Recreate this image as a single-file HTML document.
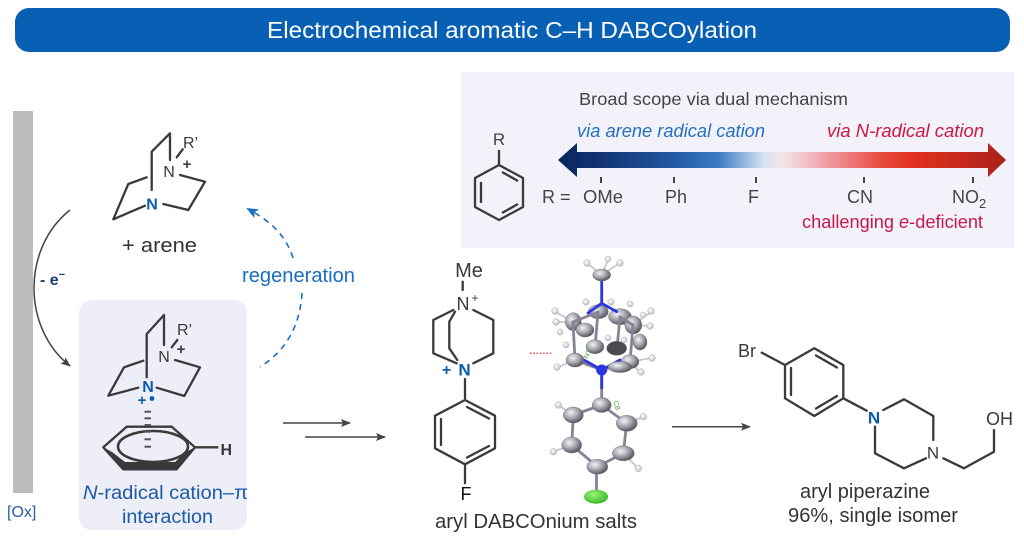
<!DOCTYPE html>
<html><head><meta charset="utf-8"><style>
html,body{margin:0;padding:0;background:#fff;}
svg{display:block;}
text{font-family:"Liberation Sans",Arial,sans-serif;}
</style></head><body>
<svg width="1024" height="542" viewBox="0 0 1024 542" xmlns="http://www.w3.org/2000/svg">
<defs>
<linearGradient id="bar" gradientUnits="userSpaceOnUse" x1="558" y1="0" x2="1006" y2="0">
<stop offset="0" stop-color="#0b245c"/>
<stop offset="0.08" stop-color="#10306e"/>
<stop offset="0.25" stop-color="#2158a2"/>
<stop offset="0.36" stop-color="#3a7cc4"/>
<stop offset="0.46" stop-color="#d6e4f2"/>
<stop offset="0.5" stop-color="#f3e6ea"/>
<stop offset="0.6" stop-color="#ef9ea4"/>
<stop offset="0.72" stop-color="#e84a40"/>
<stop offset="0.8" stop-color="#e0301f"/>
<stop offset="1" stop-color="#a9221a"/>
</linearGradient>
<radialGradient id="ga" cx="0.38" cy="0.35" r="0.7">
<stop offset="0" stop-color="#f2f2f6"/><stop offset="0.5" stop-color="#a6a6ae"/><stop offset="1" stop-color="#4a4a52"/>
</radialGradient>
<radialGradient id="gh" cx="0.4" cy="0.35" r="0.7">
<stop offset="0" stop-color="#ffffff"/><stop offset="1" stop-color="#bcbcc4"/>
</radialGradient>
<radialGradient id="gc" cx="0.4" cy="0.35" r="0.7">
<stop offset="0" stop-color="#9cf27c"/><stop offset="1" stop-color="#2fb81c"/>
</radialGradient>
<marker id="ah" viewBox="0 0 10 8" refX="9" refY="4" markerWidth="10" markerHeight="8" markerUnits="userSpaceOnUse" orient="auto">
<path d="M0,0 L10,4 L0,8 L2,4 z" fill="#444"/>
</marker>
<marker id="ahb" viewBox="0 0 12 10" refX="10" refY="5" markerWidth="12" markerHeight="10" markerUnits="userSpaceOnUse" orient="auto">
<path d="M0,0 L12,5 L0,10 L3,5 z" fill="#1a6ec0"/>
</marker>
</defs>

<!-- header -->
<rect x="15" y="8" width="995" height="44" rx="14" fill="#0760b4"/>
<text x="512" y="38" text-anchor="middle" font-size="23" fill="#fff" textLength="490" lengthAdjust="spacingAndGlyphs">Electrochemical aromatic C–H DABCOylation</text>

<!-- scope panel -->
<rect x="461" y="72" width="553" height="176" fill="#f3f2fb"/>
<text x="579" y="105" font-size="17.5" fill="#444" textLength="269" lengthAdjust="spacingAndGlyphs">Broad scope via dual mechanism</text>
<text x="577" y="137" font-size="18" font-style="italic" fill="#2470c2" textLength="188" lengthAdjust="spacingAndGlyphs">via arene radical cation</text>
<text x="827" y="137" font-size="18" font-style="italic" fill="#d0173f" textLength="157" lengthAdjust="spacingAndGlyphs">via N-radical cation</text>
<polygon points="558,160 577,143 577,152 988,152 988,143 1006,160 988,177 988,168 577,168 577,177" fill="url(#bar)"/>
<g stroke="#444" stroke-width="2">
<line x1="601" y1="177" x2="601" y2="183"/><line x1="674" y1="177" x2="674" y2="183"/>
<line x1="756" y1="177" x2="756" y2="183"/><line x1="864" y1="177" x2="864" y2="183"/>
<line x1="973" y1="177" x2="973" y2="183"/>
</g>
<g font-size="18" fill="#444">
<text x="542" y="203">R =</text>
<text x="583" y="203" textLength="40" lengthAdjust="spacingAndGlyphs">OMe</text>
<text x="665" y="203">Ph</text>
<text x="748" y="203">F</text>
<text x="847" y="203">CN</text>
<text x="952" y="203">NO<tspan font-size="13" dy="5">2</tspan></text>
</g>
<text x="802" y="228" font-size="18" fill="#c8174a" textLength="181" lengthAdjust="spacingAndGlyphs">challenging <tspan font-style="italic">e</tspan>-deficient</text>
<!-- benzene R -->
<text x="499" y="145" font-size="17" fill="#444" text-anchor="middle">R</text>
<g stroke="#3a3a3a" stroke-width="2.3" fill="none" stroke-linejoin="round">
<line x1="499" y1="150" x2="499" y2="165"/>
<polygon points="499,165 523,178 523,207 499,220 475,207 475,178"/>
<line x1="502" y1="172" x2="518" y2="181"/>
<line x1="481" y1="182" x2="481" y2="203"/>
<line x1="502" y1="213" x2="518" y2="204"/>
</g>

<!-- electrode -->
<rect x="13" y="111" width="20" height="382" fill="#bdbdbd"/>
<text x="7" y="517" font-size="16" fill="#2b5c9c">[Ox]</text>

<!-- top DABCO -->
<g stroke="#3a3a3a" stroke-width="2.3" fill="none" stroke-linecap="round" stroke-linejoin="round">
<polyline points="151.7,190 151.7,151.7 170,133.3 170,160"/>
<line x1="176.7" y1="157.3" x2="182.7" y2="149.3"/>
<polyline points="180,175 205,181.7 188.3,210 163.3,204"/>
<polyline points="145,205.7 113.3,219.3 128.3,184 146.7,177.3"/>
</g>
<text x="152" y="209.5" font-size="16" font-weight="bold" fill="#0a5cb0" text-anchor="middle">N</text>
<text x="169" y="177" font-size="16" fill="#3a3a3a" text-anchor="middle">N</text>
<text x="187" y="169" font-size="15" font-weight="bold" fill="#3a3a3a" text-anchor="middle">+</text>
<text x="183" y="148" font-size="16" fill="#3a3a3a">R’</text>
<text x="122" y="252" font-size="20" fill="#333" textLength="75" lengthAdjust="spacingAndGlyphs">+ arene</text>

<!-- -e arc -->
<path d="M70,210 C 22,248 22,328 70,366" fill="none" stroke="#444" stroke-width="1.5" marker-end="url(#ah)"/>
<text x="40" y="285" font-size="16" font-weight="bold" fill="#1d3f78">- e<tspan font-size="11" dy="-7">−</tspan></text>

<!-- regeneration -->
<path d="M293,258 C 286,236 272,222 248,209" fill="none" stroke="#1a6ec0" stroke-width="1.6" stroke-dasharray="6,5" marker-end="url(#ahb)"/>
<path d="M302,293 C 300,325 287,350 260,367" fill="none" stroke="#1a6ec0" stroke-width="1.6" stroke-dasharray="6,5"/>
<text x="242" y="282" font-size="20" fill="#1a6ec0" textLength="113" lengthAdjust="spacingAndGlyphs">regeneration</text>

<!-- radical cation box -->
<rect x="79" y="300" width="168" height="230" rx="13" fill="#eeeef9"/>
<g stroke="#3a3a3a" stroke-width="2.3" fill="none" stroke-linecap="round" stroke-linejoin="round">
<polyline points="146.7,377.3 146.7,334 164,315 164,345"/>
<line x1="171.7" y1="347.3" x2="177.3" y2="340"/>
<polyline points="175,360 200,367.3 184.3,396 156.7,387.7"/>
<polyline points="138.3,387.7 108.3,395.7 124,367.3 143.3,360.7"/>
</g>
<text x="148" y="392" font-size="16" font-weight="bold" fill="#0a5cb0" text-anchor="middle">N</text>
<text x="164" y="362" font-size="16" fill="#3a3a3a" text-anchor="middle">N</text>
<text x="181" y="354" font-size="15" font-weight="bold" fill="#3a3a3a" text-anchor="middle">+</text>
<text x="177" y="335" font-size="16" fill="#3a3a3a">R’</text>
<text x="142" y="405" font-size="15" font-weight="bold" fill="#0a5cb0" text-anchor="middle">+</text>
<circle cx="152" cy="398.5" r="2.4" fill="#0a5cb0"/>
<!-- arene -->
<polygon points="103.3,447.3 123.3,469.3 176.7,469.3 195,447.3 186,452 175,462 125,462 112,452" fill="#3a3a3a"/>
<g stroke="#3a3a3a" stroke-width="2.3" fill="none" stroke-linejoin="round">
<polygon points="103.3,447.3 126.7,426.7 171.7,426.7 195,447.3 176.7,469.3 123.3,469.3"/>
<ellipse cx="153" cy="446.5" rx="35" ry="15.5" stroke-width="2.6"/>
<line x1="195" y1="447.3" x2="218.3" y2="447.3"/>
</g>
<g stroke="#555" stroke-width="2">
<line x1="144.5" y1="411.7" x2="151" y2="411.7"/><line x1="144.5" y1="418.3" x2="151" y2="418.3"/>
<line x1="144.5" y1="425" x2="151" y2="425"/><line x1="144.5" y1="431.7" x2="151" y2="431.7"/>
<line x1="144.5" y1="439.3" x2="151" y2="439.3"/><line x1="144.5" y1="446.7" x2="151" y2="446.7"/>
</g>
<text x="220.5" y="455" font-size="16" font-weight="bold" fill="#3a3a3a">H</text>
<text x="83" y="499" font-size="19" fill="#1b5aa6" textLength="165" lengthAdjust="spacingAndGlyphs"><tspan font-style="italic">N</tspan>-radical cation–π</text>
<text x="122" y="523" font-size="19" fill="#1b5aa6" textLength="91" lengthAdjust="spacingAndGlyphs">interaction</text>

<!-- double arrows -->
<line x1="283" y1="423" x2="350" y2="423" stroke="#444" stroke-width="1.5" marker-end="url(#ah)"/>
<line x1="305" y1="437" x2="385" y2="437" stroke="#444" stroke-width="1.5" marker-end="url(#ah)"/>

<!-- DABCOnium -->
<text x="469" y="277" font-size="20" fill="#3a3a3a" text-anchor="middle">Me</text>
<g stroke="#3a3a3a" stroke-width="2.3" fill="none" stroke-linecap="round" stroke-linejoin="round">
<line x1="462.7" y1="281.7" x2="462.7" y2="290"/>
<polyline points="453.3,310 433.3,320 433.3,353.3 456.7,363.3"/>
<polyline points="455,311.7 449.3,321.7 449.3,348.3 457.3,360"/>
<polyline points="473.3,310 493.3,320 493.3,353.3 473.3,363.3"/>
<line x1="465" y1="379" x2="465" y2="398.3"/>
<polygon points="465,400 495,415.7 495,448.3 465,464.3 435,448.3 435,415.7"/>
<line x1="467" y1="407" x2="489" y2="418.5"/>
<line x1="441" y1="419" x2="441" y2="445"/>
<line x1="467" y1="457.5" x2="489" y2="446"/>
<line x1="465" y1="464.3" x2="465" y2="483.3"/>
</g>
<text x="463" y="310" font-size="18" fill="#3a3a3a" text-anchor="middle">N</text>
<text x="475" y="302" font-size="12" fill="#3a3a3a" text-anchor="middle">+</text>
<text x="464.5" y="375.5" font-size="17" font-weight="bold" fill="#0a5cb0" text-anchor="middle">N</text>
<text x="446.5" y="375" font-size="16" font-weight="bold" fill="#0a5cb0" text-anchor="middle">+</text>
<text x="466" y="500" font-size="18" fill="#111" text-anchor="middle">F</text>
<text x="435" y="528" font-size="20" fill="#333" textLength="202" lengthAdjust="spacingAndGlyphs">aryl DABCOnium salts</text>

<!-- crystal structure -->
<line x1="530" y1="353.3" x2="553" y2="353.3" stroke="#d04848" stroke-width="1.5" stroke-dasharray="1.5,1.8"/>
<g stroke="#c0c0c8" stroke-width="1.6">
<line x1="601.7" y1="275" x2="587" y2="263"/><line x1="601.7" y1="275" x2="620" y2="263"/><line x1="601.7" y1="275" x2="608" y2="260"/>
<line x1="573" y1="322" x2="556" y2="312"/><line x1="573" y1="322" x2="557" y2="322"/>
<line x1="633" y1="325" x2="651" y2="312"/><line x1="633" y1="325" x2="650" y2="326"/>
<line x1="630" y1="362" x2="651" y2="358"/><line x1="630" y1="362" x2="640" y2="372"/>
<line x1="575" y1="360" x2="558" y2="367"/><line x1="573.3" y1="415" x2="558.3" y2="405"/>
<line x1="626.7" y1="423.3" x2="643.3" y2="416.7"/><line x1="571.7" y1="445" x2="553.3" y2="451.7"/>
<line x1="623.3" y1="453.3" x2="638.3" y2="468.3"/>
</g>
<g fill="url(#gh)" stroke="#a8a8b0" stroke-width="0.5">
<circle cx="587" cy="263" r="3.3"/><circle cx="620" cy="263" r="3.3"/><circle cx="608" cy="259" r="3"/>
<circle cx="555" cy="311" r="3.3"/><circle cx="556" cy="322" r="3.3"/><circle cx="560" cy="332" r="3"/>
<circle cx="586" cy="302" r="3.2"/><circle cx="611" cy="302" r="3.2"/><circle cx="630" cy="304" r="3"/>
<circle cx="651" cy="311" r="3.3"/><circle cx="650" cy="326" r="3.3"/><circle cx="643" cy="315" r="3"/>
<circle cx="652" cy="358" r="3.3"/><circle cx="641" cy="372" r="3.3"/><circle cx="557" cy="367" r="3.3"/>
<circle cx="566" cy="345" r="3"/><circle cx="558.3" cy="405" r="3.3"/><circle cx="643.3" cy="416.7" r="3.3"/>
<circle cx="553.3" cy="451.7" r="3.3"/><circle cx="638.3" cy="468.3" r="3.3"/>
</g>
<g fill="url(#ga)" stroke="#6a6a72" stroke-width="0.4">
<ellipse cx="598.3" cy="311.7" rx="10" ry="7"/>
<ellipse cx="620" cy="316.7" rx="11.5" ry="8"/>
<ellipse cx="633.3" cy="325" rx="8.5" ry="9"/>
<ellipse cx="573.3" cy="321.7" rx="8" ry="9"/>
<ellipse cx="585" cy="330" rx="9" ry="7"/>
<ellipse cx="640" cy="342" rx="7" ry="8"/>
</g>
<g stroke="#8a8294" stroke-width="2.8" stroke-linecap="round">
<line x1="573" y1="322" x2="575" y2="360"/><line x1="598" y1="312" x2="595" y2="347"/>
<line x1="620" y1="317" x2="617" y2="348"/><line x1="633" y1="325" x2="630" y2="362"/>
<line x1="573" y1="322" x2="598" y2="312"/><line x1="620" y1="317" x2="633" y2="325"/>
<line x1="575" y1="360" x2="602" y2="370"/><line x1="630" y1="362" x2="602" y2="370"/>
<line x1="601.7" y1="373" x2="601.7" y2="400"/>
<line x1="601.7" y1="405" x2="573.3" y2="415"/><line x1="601.7" y1="405" x2="626.7" y2="423.3"/>
<line x1="573.3" y1="415" x2="571.7" y2="445"/><line x1="626.7" y1="423.3" x2="623.3" y2="453.3"/>
<line x1="571.7" y1="445" x2="597.3" y2="466.7"/><line x1="623.3" y1="453.3" x2="597.3" y2="466.7"/>
<line x1="596.5" y1="473" x2="596.5" y2="492"/>
</g>
<g stroke="#2a36e0" stroke-width="2.8" stroke-linecap="round">
<line x1="601.7" y1="281.7" x2="601.7" y2="303.3"/><line x1="601.7" y1="303.3" x2="588" y2="313"/>
<line x1="601.7" y1="303.3" x2="616.7" y2="311.7"/>
<line x1="601.7" y1="370" x2="584" y2="360"/><line x1="601.7" y1="370" x2="620" y2="360"/>
<line x1="601.7" y1="370" x2="601.7" y2="388"/>
</g>
<g fill="url(#ga)" stroke="#6a6a72" stroke-width="0.4">
<ellipse cx="601.7" cy="275" rx="9" ry="6"/>
<ellipse cx="595" cy="346.7" rx="9" ry="7"/>
<ellipse cx="616.7" cy="348.3" rx="10" ry="7" fill="#4a4a50"/>
<ellipse cx="575" cy="360" rx="9" ry="7"/>
<ellipse cx="630" cy="361.7" rx="9" ry="7"/>
<ellipse cx="620" cy="367" rx="12" ry="5.5"/>
<ellipse cx="601.7" cy="405" rx="9.5" ry="7.5"/>
<ellipse cx="573.3" cy="415" rx="10" ry="8"/>
<ellipse cx="626.7" cy="423.3" rx="10.5" ry="8"/>
<ellipse cx="571.7" cy="445" rx="10" ry="8"/>
<ellipse cx="623.3" cy="453.3" rx="11" ry="7.5"/>
<ellipse cx="597.3" cy="466.7" rx="10.5" ry="7.5"/>
</g>
<g fill="url(#gh)" stroke="#a8a8b0" stroke-width="0.5">
<circle cx="608" cy="338" r="3"/><circle cx="624" cy="340" r="3"/>
</g>
<circle cx="601.7" cy="370" r="5.5" fill="#2a36e0"/>
<ellipse cx="596" cy="496.7" rx="12" ry="7" fill="url(#gc)"/>
<text x="613" y="402" font-size="7" fill="#3ca03c" transform="rotate(70 613 402)">C8</text>
<text x="588" y="359" font-size="7" fill="#3ca03c" transform="rotate(-70 588 359)">N1</text>

<!-- arrow to piperazine -->
<line x1="672" y1="426.7" x2="750" y2="426.7" stroke="#444" stroke-width="1.5" marker-end="url(#ah)"/>

<!-- piperazine -->
<text x="738" y="357" font-size="18" fill="#3a3a3a">Br</text>
<g stroke="#3a3a3a" stroke-width="2.3" fill="none" stroke-linecap="round" stroke-linejoin="round">
<line x1="761.7" y1="352.7" x2="785" y2="365"/>
<polygon points="785,365 814.3,348.3 843.3,365 843.3,398.3 814.3,416 785,398.3"/>
<line x1="816" y1="355.5" x2="837" y2="367.5"/>
<line x1="791" y1="368" x2="791" y2="395"/>
<line x1="816" y1="408.5" x2="837" y2="396"/>
<line x1="843.3" y1="398.3" x2="866.7" y2="410.7"/>
<polyline points="883.3,410 904,399.3 933.3,416 933.3,440"/>
<polyline points="926,458.3 904,468.3 875,453.3 875,426.7"/>
<polyline points="943.3,458.3 964,468.3 994,451.7 994,430"/>
</g>
<text x="874" y="423.5" font-size="17" font-weight="bold" fill="#0a5cb0" text-anchor="middle">N</text>
<text x="933" y="458.5" font-size="17" fill="#3a3a3a" text-anchor="middle">N</text>
<text x="986" y="425" font-size="18" fill="#3a3a3a">OH</text>
<text x="800" y="498" font-size="20" fill="#333" textLength="130" lengthAdjust="spacingAndGlyphs">aryl piperazine</text>
<text x="788" y="522" font-size="20" fill="#333" textLength="170" lengthAdjust="spacingAndGlyphs">96%, single isomer</text>
</svg>
</body></html>
